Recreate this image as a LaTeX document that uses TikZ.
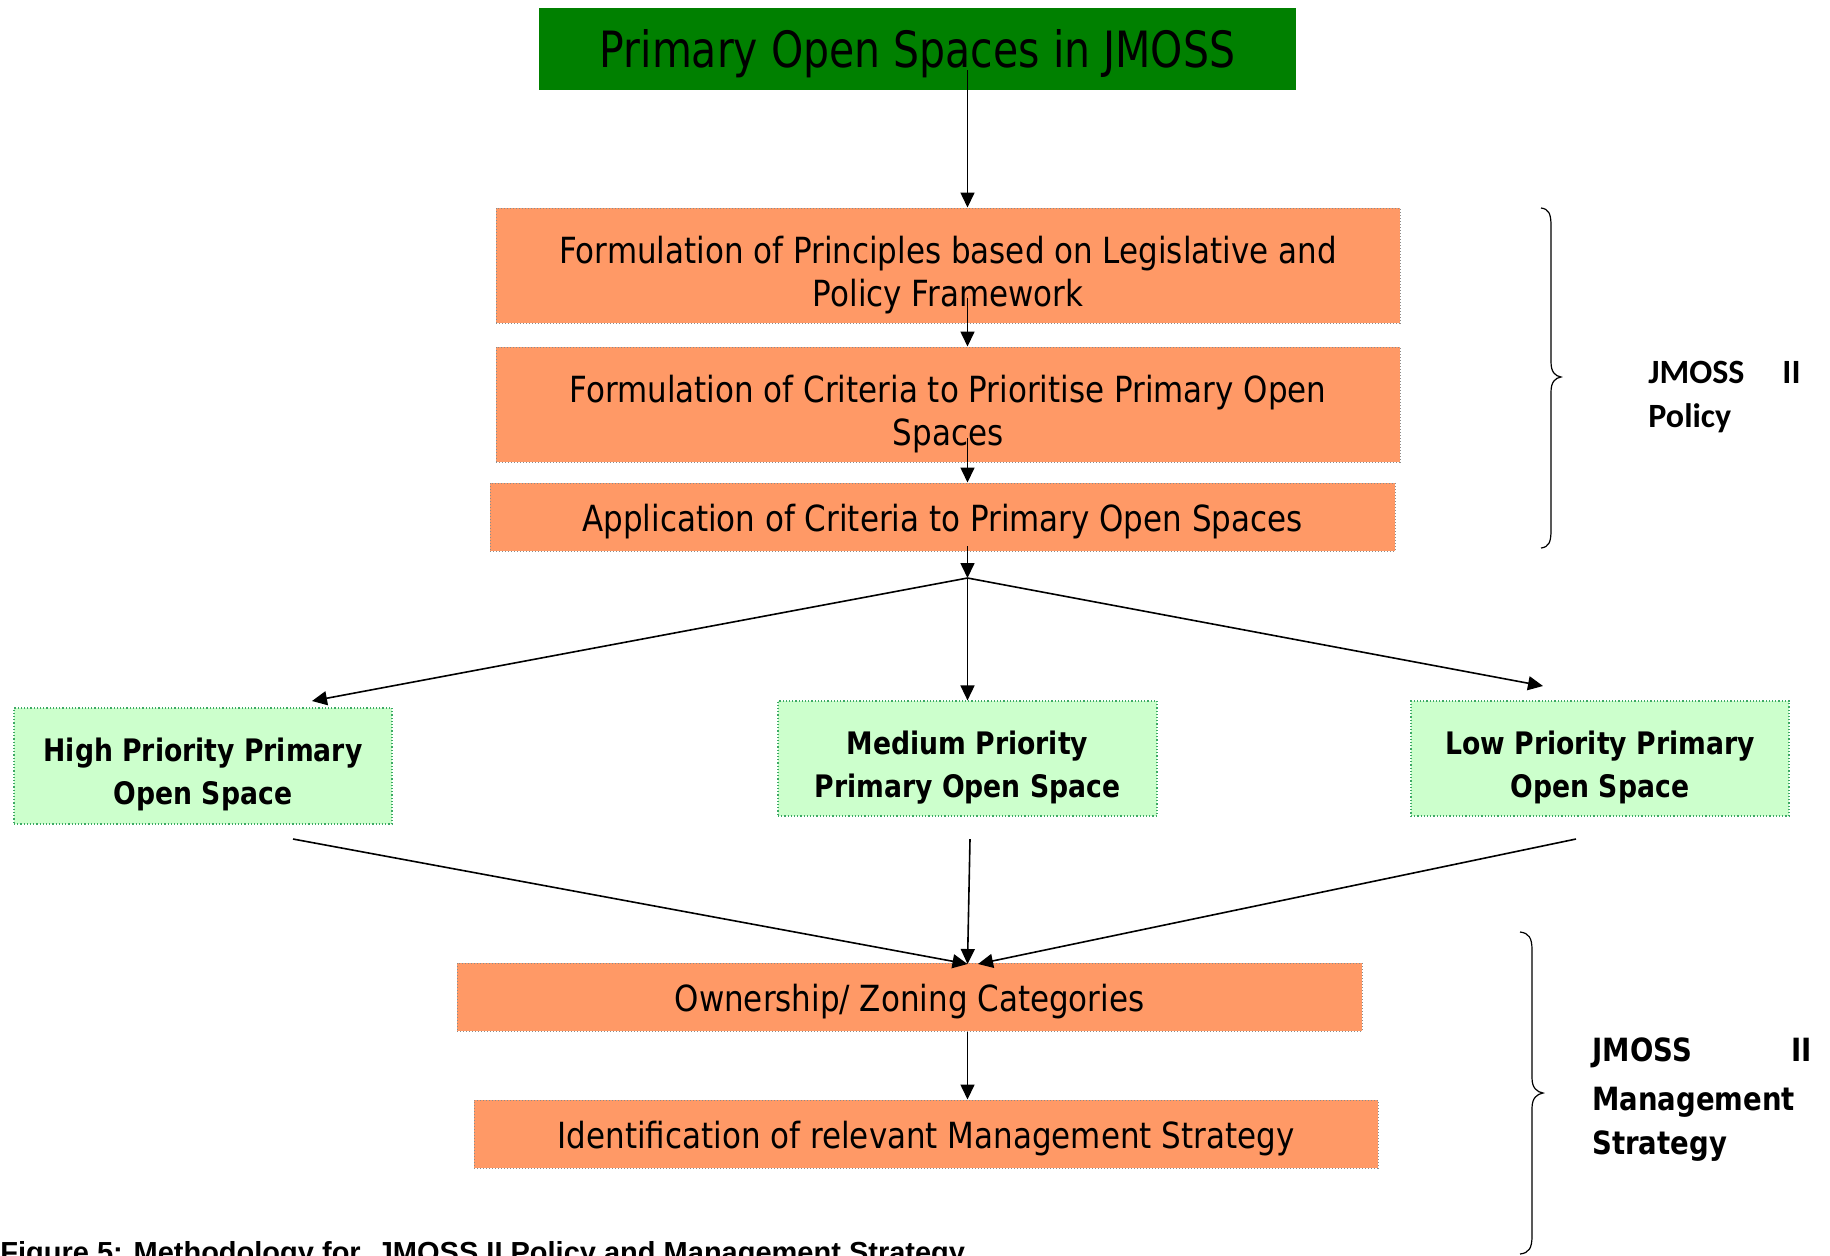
\documentclass[tikz,border=0pt]{standalone}
\usepackage{fontspec}
\usetikzlibrary{arrows.meta}
\newfontfamily\condfont{DejaVu Sans}[FakeStretch=0.86]
\newfontfamily\headfont{DejaVu Sans}[FakeStretch=0.82]
\newfontfamily\widebold{DejaVu Sans}[FakeStretch=0.86]
\newfontfamily\carlfont{Carlito}
\newfontfamily\capfont{Liberation Sans}
\definecolor{headgreen}{RGB}{0,128,0}
\definecolor{stepfill}{RGB}{255,153,102}
\definecolor{stepline}{RGB}{140,140,140}
\definecolor{prioFill}{RGB}{204,255,204}
\definecolor{prioLine}{RGB}{60,170,100}
% strut that lowers the first line of a box
\newcommand\firstup[1]{\rule{0pt}{#1}}
\begin{document}
\begin{tikzpicture}[x=0.5pt,y=-0.5pt,
  lift/.style={execute at begin node={\rule{0pt}{#1}}},
  headbox/.style={fill=headgreen, inner sep=0, align=center, lift=24pt,
    font=\headfont\fontsize{25}{29}\selectfont},
  stepbox/.style={fill=stepfill, draw=stepline, densely dotted, line width=0.5pt,
    inner sep=0, align=center, font=\condfont\fontsize{18}{21.5}\selectfont},
  priobox/.style={fill=prioFill, draw=prioLine, densely dotted, line width=0.6pt,
    inner sep=0, align=center,
    font=\widebold\bfseries\fontsize{15.5}{21.5}\selectfont},
  arr/.style={draw, line width=0.8pt, -{Triangle[length=7.5pt,width=7pt]}},
  plain/.style={draw, line width=0.6pt},
  tag/.style={inner sep=0, font=\carlfont\bfseries\fontsize{17}{20}\selectfont},
  mtag/.style={inner sep=0, font=\widebold\bfseries\fontsize{16}{20}\selectfont},
]
\useasboundingbox (0,0) rectangle (1830,1255);
\clip (0,0) rectangle (1830,1255);

% boxes
\node[headbox, minimum width=757*0.5pt, minimum height=82*0.5pt] (top) at (917.5,49) {Primary Open Spaces in JMOSS};
\node[stepbox, minimum width=904*0.5pt, minimum height=115*0.5pt] (b1) at (948,265.5)
  {\firstup{23pt}Formulation of Principles based on Legislative and\\Policy Framework};
\node[stepbox, minimum width=904*0.5pt, minimum height=115*0.5pt] (b2) at (948,404.5)
  {\firstup{23pt}Formulation of Criteria to Prioritise Primary Open\\Spaces};
\node[stepbox, lift=18pt, minimum width=905*0.5pt, minimum height=68*0.5pt] (b3) at (942.5,517)
  {Application of Criteria to Primary Open Spaces};
\node[priobox, minimum width=378*0.5pt, minimum height=116*0.5pt] (hi) at (203,766)
  {\firstup{20.5pt}High Priority Primary\\Open Space};
\node[priobox, minimum width=379*0.5pt, minimum height=115*0.5pt] (med) at (967.5,758.5)
  {\firstup{20.5pt}Medium Priority\\Primary Open Space};
\node[priobox, minimum width=378*0.5pt, minimum height=115*0.5pt] (low) at (1600,758.5)
  {\firstup{20.5pt}Low Priority Primary\\Open Space};
\node[stepbox, lift=18pt, minimum width=905*0.5pt, minimum height=68*0.5pt] (own) at (909.5,997)
  {Ownership/ Zoning Categories};
\node[stepbox, lift=18.5pt, minimum width=904*0.5pt, minimum height=68*0.5pt] (ident) at (926,1134)
  {Identification of relevant Management Strategy};

% connector points
\coordinate (s0) at (967.5,70);
\coordinate (s1) at (967.5,298);
\coordinate (s2) at (967.5,438);
\coordinate (s3) at (967.5,546);
\coordinate (J) at (967.5,578);
\coordinate (hiT) at (312,701);
\coordinate (lowT) at (1543,686);
\coordinate (hiS) at (293,839);
\coordinate (medS) at (970,839);
\coordinate (lowS) at (1576,839);
\coordinate (oL) at (967.5,964);
\coordinate (oR) at (978,964);

% connectors
\draw[arr] (s0) -- (s0 |- b1.north);
\draw[arr] (s1) -- (s1 |- b2.north);
\draw[arr] (s2) -- (s2 |- b3.north);
\draw[arr] (s3) -- (J);
\draw[arr] (J) -- (hiT);
\draw[arr] (J) -- (J |- med.north);
\draw[arr] (J) -- (lowT);
\draw[arr] (hiS) -- (oL);
\draw[arr] (medS) -- (oL);
\draw[arr] (lowS) -- (oR);
\draw[arr] (oL |- own.south) -- (oL |- ident.north);

% braces
\draw[plain] (1541,208) .. controls (1549,209) and (1551,214) .. (1551,226)
  -- (1551,362) .. controls (1551,372) and (1555,376) .. (1561,377)
  .. controls (1555,378) and (1551,382) .. (1551,392)
  -- (1551,530) .. controls (1551,542) and (1549,547) .. (1541,548);
\draw[plain] (1520,932) .. controls (1529,933) and (1532,938) .. (1532,950)
  -- (1532,1078) .. controls (1532,1088) and (1537,1092) .. (1543,1093)
  .. controls (1537,1094) and (1532,1098) .. (1532,1108)
  -- (1532,1236) .. controls (1532,1248) and (1529,1253) .. (1520,1254);

% side labels
\node[tag, anchor=base west] (pa) at (1648,383) {JMOSS};
\node[tag, anchor=base east] (pb) at (1801,383) {II};
\node[tag, anchor=base west] (pc) at (1648,427) {Policy};
\node[mtag, anchor=base west] (ma) at (1592,1061) {JMOSS};
\node[mtag, anchor=base east] (mb) at (1812,1061) {II};
\node[mtag, anchor=base west] (mc) at (1592,1110) {Management};
\node[mtag, anchor=base west] (md) at (1592,1154) {Strategy};

% caption
\node[inner sep=0, anchor=base west, font=\capfont\bfseries\fontsize{14.5}{17}\selectfont] (cap)
  at (0,1262) {Figure 5: Methodology for~ JMOSS II Policy and Management Strategy};
\end{tikzpicture}
\end{document}
